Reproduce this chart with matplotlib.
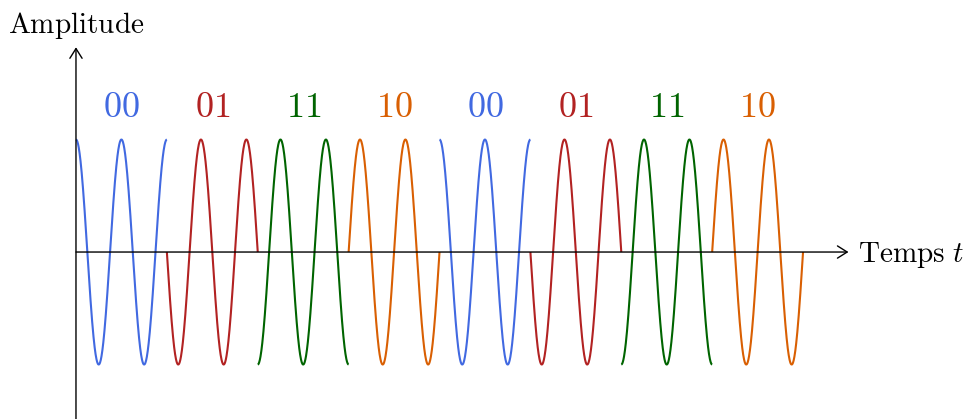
import numpy as np
import matplotlib.pyplot as plt

plt.rcParams['mathtext.fontset'] = 'cm'

# symbols sent, two periods of carrier each
symboles = ['00', '01', '11', '10', '00', '01', '11', '10']
# phase of sin(2*pi*t + phi) for each symbol, in degrees
phases = {'00': 90, '01': 180, '11': 270, '10': 0}
couleurs = {'00': '#4169E1', '01': '#B22222', '11': '#006400', '10': '#D95F02'}
periodes = 2

fig = plt.figure(figsize=(9.63, 4.19), dpi=100)
ax = fig.add_axes([0, 0, 1, 1])
ax.set_xlim(-1.672, 19.52)
ax.set_ylim(-1.484, 2.24)
ax.axis('off')

# axes with arrows
fleche = dict(arrowstyle='->,head_length=0.35,head_width=0.22', lw=1.0,
              color='black', mutation_scale=20, shrinkA=0, shrinkB=0)
ax.annotate('', xy=(17.0, 0), xytext=(0, 0), arrowprops=fleche)
ax.annotate('', xy=(0, 1.82), xytext=(0, -1.6), arrowprops=fleche)

for i, s in enumerate(symboles):
    t0 = i * periodes
    t = np.linspace(0, periodes, 400)
    y = np.sin(2 * np.pi * t + np.radians(phases[s]))
    ax.plot(t0 + t, y, color=couleurs[s], lw=1.5, solid_capstyle='butt')
    ax.text(t0 + periodes / 2, 1.285, '$' + s + '$', color=couleurs[s],
            fontsize=26, ha='center', va='center')

ax.text(0, 1.947, r'$\mathrm{Amplitude}$', fontsize=21, ha='center', va='baseline')
ax.text(17.21, -0.089, r'$\mathrm{Temps}\ t$', fontsize=21, ha='left', va='baseline')

fig.savefig('out.png', dpi=100)
